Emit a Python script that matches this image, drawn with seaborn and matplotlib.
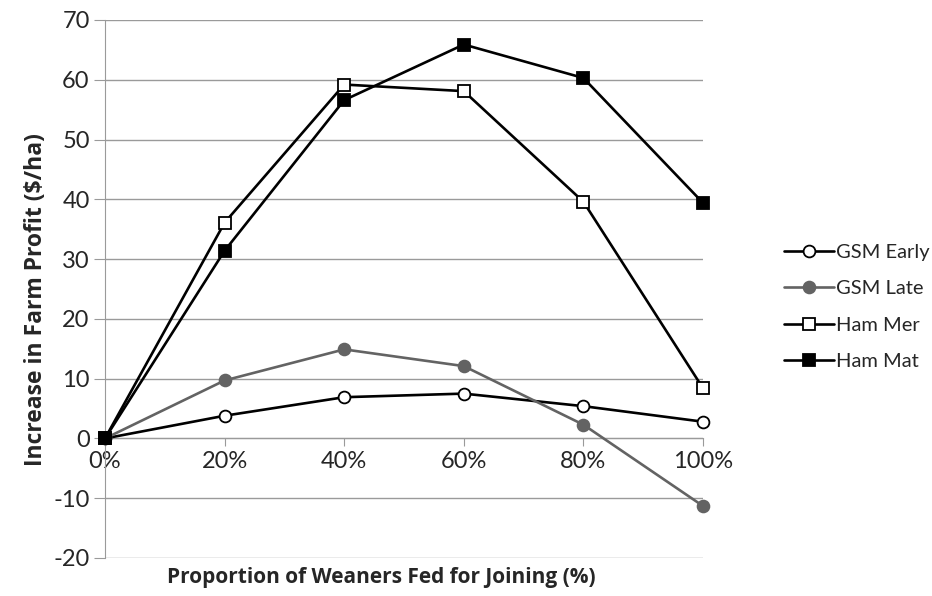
import matplotlib.pyplot as plt
import seaborn as sns
import pandas as pd

# -------------------------
# Data
# -------------------------

proportion = [0, 20, 40, 60, 80, 100]
tick_labels = ["0%", "20%", "40%", "60%", "80%", "100%"]

gsm_early = [0, 3.8, 6.9, 7.5, 5.4, 2.8]
gsm_late = [0, 9.7, 14.9, 12.1, 2.3, -11.3]
ham_mer = [0, 36.1, 59.2, 58.1, 39.6, 8.4]
ham_mat = [0, 31.4, 56.6, 65.9, 60.3, 39.4]

series = {
    "GSM Early": gsm_early,
    "GSM Late": gsm_late,
    "Ham Mer": ham_mer,
    "Ham Mat": ham_mat,
}

styles = {
    "GSM Early": dict(color="black", marker="o", mfc="white", mec="black"),
    "GSM Late": dict(color="#636363", marker="o", mfc="#636363", mec="#636363"),
    "Ham Mer": dict(color="black", marker="s", mfc="white", mec="black"),
    "Ham Mat": dict(color="black", marker="s", mfc="black", mec="black"),
}

df = pd.DataFrame(
    [(name, x, y) for name, vals in series.items() for x, y in zip(proportion, vals)],
    columns=["series", "proportion", "profit"],
)

sns.set_style("white")
plt.rcParams["font.family"] = ["Lato", "DejaVu Sans"]
plt.rcParams["axes.unicode_minus"] = False

fig = plt.figure(figsize=(9.32, 5.96), dpi=100)
ax = fig.add_axes([105 / 932, 38 / 596, 598 / 932, 538 / 596])

for name in series:
    st = styles[name]
    sns.lineplot(
        data=df[df["series"] == name],
        x="proportion",
        y="profit",
        ax=ax,
        label=name,
        color=st["color"],
        marker=st["marker"],
        markerfacecolor=st["mfc"],
        markeredgecolor=st["mec"],
        markeredgewidth=1.3,
        markersize=8.5,
        linewidth=1.9,
        clip_on=False,
        zorder=3,
    )

ax.set_xlim(0, 100)
ax.set_ylim(-20, 70)
ax.set_yticks(range(-20, 71, 10))
ax.set_xticks(proportion)
ax.set_xticklabels(tick_labels)

ax.grid(axis="y", color="#9a9a9a", linewidth=1.0)
ax.grid(axis="x", visible=False)
for s in ["top", "right"]:
    ax.spines[s].set_visible(False)
ax.spines["bottom"].set_position(("data", 0))
ax.spines["bottom"].set_color("#9a9a9a")
ax.spines["left"].set_color("#9a9a9a")
ax.spines["bottom"].set_zorder(1)

ax.tick_params(axis="y", length=8, color="#9a9a9a", labelsize=17, pad=3, left=True)
ax.tick_params(axis="x", length=6, color="#9a9a9a", labelsize=17, pad=3, bottom=True, direction="out")

label_font = dict(family=["Open Sans", "DejaVu Sans"], fontweight="bold")
ax.set_xlabel("Proportion of Weaners Fed for Joining (%)", fontsize=15, **label_font)
ax.xaxis.set_label_coords(0.462, -0.037)
ax.xaxis.label.set_va("center")
ax.set_ylabel("Increase in Farm Profit ($/ha)", fontsize=16.5, **label_font)
ax.yaxis.set_label_coords(-0.115, 0.48)
ax.yaxis.label.set_va("center")

leg = ax.legend(
    loc="center left",
    bbox_to_anchor=(784 / 932, 1 - 307 / 596),
    bbox_transform=fig.transFigure,
    frameon=False,
    fontsize=14.5,
    handlelength=2.5,
    labelspacing=0.97,
    handletextpad=0.1,
    borderpad=0,
    borderaxespad=0,
)

fig.savefig("out.png", dpi=100)
